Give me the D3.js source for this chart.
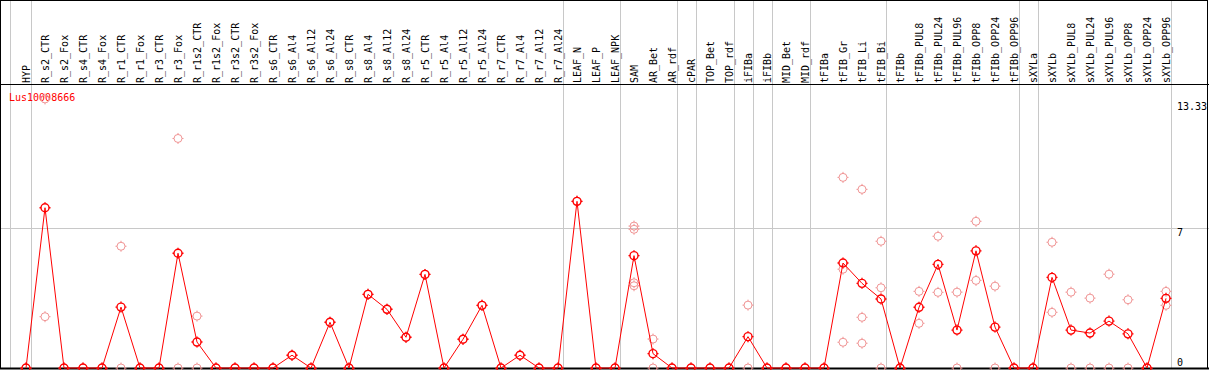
<!DOCTYPE html>
<html>
<head>
<meta charset="utf-8">
<script src="https://cdn.jsdelivr.net/npm/d3@7"></script>
<style>
  html, body { margin: 0; padding: 0; background: #fff; }
  svg { display: block; }
  text { font-family: "DejaVu Sans Mono", "Liberation Mono", monospace; font-size: 10px; }
</style>
</head>
<body>
<svg id="chart" width="1209" height="370"></svg>
<script>
const title = "Lus10008666";
const categories = ["HYP","R_s2_CTR","R_s2_Fox","R_s4_CTR","R_s4_Fox","R_r1_CTR","R_r1_Fox","R_r3_CTR","R_r3_Fox",
  "R_r1s2_CTR","R_r1s2_Fox","R_r3s2_CTR","R_r3s2_Fox","R_s6_CTR","R_s6_Al4","R_s6_Al12","R_s6_Al24",
  "R_s8_CTR","R_s8_Al4","R_s8_Al12","R_s8_Al24","R_r5_CTR","R_r5_Al4","R_r5_Al12","R_r5_Al24",
  "R_r7_CTR","R_r7_Al4","R_r7_Al12","R_r7_Al24","LEAF_N","LEAF_P","LEAF_NPK","SAM","AR_Bet","AR_rdf",
  "cPAR","TOP_Bet","TOP_rdf","iFIBa","iFIBb","MID_Bet","MID_rdf","tFIBa","tFIB_Gr","tFIB_Li","tFIB_Bi",
  "tFIBb","tFIBb_PUL8","tFIBb_PUL24","tFIBb_PUL96","tFIBb_OPP8","tFIBb_OPP24","tFIBb_OPP96",
  "sXYLa","sXYLb","sXYLb_PUL8","sXYLb_PUL24","sXYLb_PUL96","sXYLb_OPP8","sXYLb_OPP24","sXYLb_OPP96"];

const meanValues = [0, 8.03, 0, 0, 0, 3.05, 0, 0, 5.75,
  1.30, 0, 0, 0, 0, 0.64, 0, 2.29,
  0, 3.69, 2.94, 1.54, 4.69, 0, 1.44, 3.14,
  0, 0.64, 0, 0, 8.35, 0, 0, 5.63, 0.72, 0,
  0, 0, 0, 1.57, 0, 0, 0, 0, 5.26, 4.24, 3.46,
  0, 3.04, 5.19, 1.90, 5.87, 2.05, 0,
  0, 4.54, 1.90, 1.75, 2.35, 1.71, 0, 3.49];

const replicateValues = [[0],[2.57,13.48],[0],[0],[0],[6.1,0],[0],[0],[11.5,0],
  [2.6,0],[0],[0],[0],[0],[0.64],[0],[2.29],
  [0],[3.69],[2.94],[1.54],[4.69],[0],[1.44],[3.14],
  [0],[0.64],[0],[0],[8.35],[0],[0],[7.11,6.95,4.27,4.12],[1.45,0],[0],
  [0],[0],[0],[3.15,0],[0],[0],[0],[0],[9.55,4.95,1.29],[8.95,2.54,1.24],[6.35,4.02,0],
  [0],[3.84,2.24],[6.6,3.79],[3.8,0],[7.35,4.39],[4.1,0],[0],
  [0],[6.3,2.79],[3.8,0],[3.5,0],[4.7,0],[3.42,0],[0],[3.84,3.14]];

// group separators are drawn after these categories
const groupEnds = ["HYP","R_r7_Al24","LEAF_NPK","AR_rdf","cPAR","TOP_rdf","iFIBa","iFIBb","MID_rdf","tFIB_Bi","tFIBb_OPP96","sXYLa","sXYLb_OPP96"];
const yTicks = [13.33, 7, 0];
const yMax = 13.33;

const W = 1209, H = 370;
const headerBottom = 84.5, plotBottom = 368;
const svg = d3.select("#chart");

const x = d3.scalePoint().domain(categories).range([26, 1166]);
const step = x.step();
const y = d3.scaleLinear().domain([0, yMax]).range([plotBottom, plotBottom - yMax * 19.96]);

svg.append("rect").attr("width", W).attr("height", H).attr("fill", "#fff");

// vertical group separators
const sepX = [x(categories[0]) - step + 3].concat(groupEnds.map(c => x(c) + 4.5));
svg.append("g").selectAll("line").data(sepX).join("line")
  .attr("x1", d => Math.round(d) + 0.5).attr("x2", d => Math.round(d) + 0.5)
  .attr("y1", 0).attr("y2", plotBottom)
  .attr("stroke", "#c8c8c8").attr("stroke-width", 1);

// horizontal gridline at 7
svg.append("g").selectAll("line").data(yTicks.filter(v => v !== 0 && v !== yMax)).join("line")
  .attr("x1", 0).attr("x2", W)
  .attr("y1", d => Math.round(y(d)) + 0.5).attr("y2", d => Math.round(y(d)) + 0.5)
  .attr("stroke", "#c8c8c8").attr("stroke-width", 1);

// borders
svg.append("rect").attr("x", 0.5).attr("y", 0.5).attr("width", 1207).attr("height", 368)
  .attr("fill", "none").attr("stroke", "#000").attr("stroke-width", 1);
svg.append("line").attr("x1", 0).attr("x2", W).attr("y1", headerBottom).attr("y2", headerBottom)
  .attr("stroke", "#000").attr("stroke-width", 1);
svg.append("line").attr("x1", 0).attr("x2", W).attr("y1", plotBottom + 0.5).attr("y2", plotBottom + 0.5)
  .attr("stroke", "#000").attr("stroke-width", 2);

// header labels
svg.append("g").selectAll("text").data(categories).join("text")
  .attr("transform", d => `translate(${x(d) + 3.6},${headerBottom - 1.5}) rotate(-90)`)
  .attr("text-anchor", "start")
  .attr("fill", "#000")
  .text(d => d);

// right value labels
svg.append("g").selectAll("text").data(yTicks).join("text")
  .attr("x", 1177)
  .attr("y", d => Math.min(y(d) + 8, plotBottom - 2))
  .attr("fill", "#000")
  .text(d => d);

// title
svg.append("text").attr("x", 9).attr("y", 101).attr("fill", "#ff0000").text(title);

const marker = "M-4,0A4,4 0 1,0 4,0A4,4 0 1,0 -4,0M0,-4V-5.5M0,4V5.5M-4,0H-5.5M4,0H5.5";

// replicate points
const reps = [];
categories.forEach((c, i) => replicateValues[i].forEach(v => reps.push({c, v})));
svg.append("g").selectAll("path").data(reps).join("path")
  .attr("transform", d => `translate(${x(d.c)},${y(d.v)})`)
  .attr("d", marker)
  .attr("fill", "none").attr("stroke", "#f09494").attr("stroke-width", 1);

// mean line
const pts = categories.map((c, i) => ({c, v: meanValues[i]}));
svg.append("path").datum(pts)
  .attr("d", d3.line().x(d => x(d.c)).y(d => y(d.v)))
  .attr("fill", "none").attr("stroke", "#ff0000").attr("stroke-width", 1);

svg.append("g").selectAll("path").data(pts).join("path")
  .attr("transform", d => `translate(${x(d.c)},${y(d.v)})`)
  .attr("d", marker)
  .attr("fill", "none").attr("stroke", "#ff0000").attr("stroke-width", 1.4);
</script>
</body>
</html>
